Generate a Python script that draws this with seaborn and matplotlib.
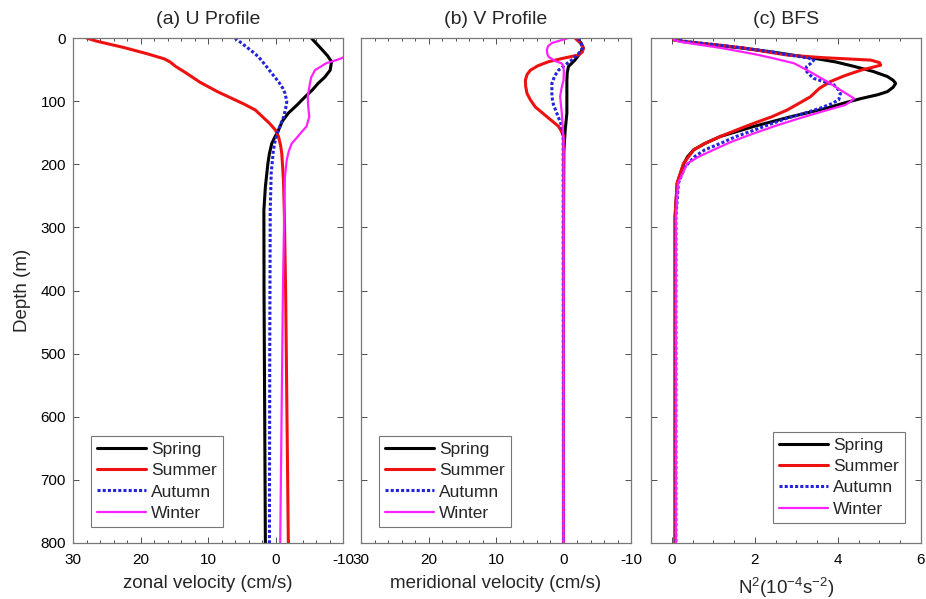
import numpy as np
import pandas as pd
import matplotlib
matplotlib.use("Agg")
import matplotlib.pyplot as plt
import seaborn as sns
from matplotlib.ticker import MultipleLocator

sns.set_style("white")
plt.rcParams['font.family'] = ['Liberation Sans', 'DejaVu Sans']
plt.rcParams['mathtext.fontset'] = 'custom'
plt.rcParams['mathtext.rm'] = 'Liberation Sans'

seasons = ["Spring", "Summer", "Autumn", "Winter"]
colors = {"Spring": "black", "Summer": "#ee1111", "Autumn": "#2222dd", "Winter": "#ff22ff"}

# ---- (a) U profile (cm/s) ----
u_spring_depth = [0, 15, 28, 37.5, 51, 62, 72, 83, 93, 106, 119, 132, 146, 157, 167, 183, 199, 236, 273, 400, 600, 800]
u_spring = [-5.3, -6.6, -7.7, -8.3, -8.1, -7.3, -6.3, -5.4, -4.4, -3.2, -1.9, -1.0, -0.44, 0.1, 0.55, 0.9, 1.13, 1.5, 1.72, 1.7, 1.6, 1.5]
u_summer_depth = [0, 5, 15, 25, 33, 38, 45, 55, 70, 85, 97, 105, 114, 125, 135, 146, 156, 170, 183, 225, 273, 400, 600, 800]
u_summer = [28, 26.5, 22.5, 19, 16.5, 15.6, 14.8, 13.3, 11.2, 8.6, 6.2, 4.6, 3.0, 1.9, 0.9, 0.0, -0.44, -0.75, -0.93, -1.18, -1.3, -1.5, -1.7, -1.9]
u_autumn_depth = [0, 10, 20, 30, 43, 56, 70, 80, 88, 101, 112, 125, 146, 160, 177, 214, 273, 500, 800]
u_autumn = [6.0, 4.8, 3.6, 2.5, 1.5, 0.55, -0.5, -1.1, -1.43, -1.67, -1.5, -1.2, -0.44, 0.0, 0.3, 0.64, 0.78, 0.85, 0.9]
u_winter_depth = [0, 25, 32, 34, 40, 51, 62, 72, 93, 108, 125, 140, 151, 160, 167, 180, 193, 220, 273, 400, 600, 800]
u_winter = [-13, -11, -9.8, -9.3, -7.5, -5.85, -5.3, -5.1, -4.77, -4.85, -5.0, -4.6, -3.7, -3.0, -2.4, -1.95, -1.67, -1.4, -1.3, -1.1, -0.9, -0.7]

# ---- (b) V profile (cm/s) ----
v_spring_depth = [0, 8, 16, 25, 35, 45, 55, 67, 119, 146, 180, 300, 800]
v_spring = [-2.0, -2.6, -2.95, -2.4, -1.7, -0.74, -0.55, -0.5, -0.5, -0.25, -0.05, 0.0, 0.0]
v_summer_depth = [0, 8, 16, 22, 27, 32, 37.5, 44, 51, 58, 67, 77, 88, 98, 109, 118, 127, 134, 140, 148, 156, 300, 800]
v_summer = [-1.7, -2.5, -2.95, -2.8, -2.2, 0.0, 2.2, 3.8, 4.9, 5.4, 5.65, 5.6, 5.4, 4.9, 4.2, 3.2, 2.2, 1.4, 0.74, 0.3, 0.0, 0.0, 0.0]
v_autumn_depth = [0, 8, 16, 25, 35, 43, 51, 60, 72, 93, 105, 119, 130, 140, 160, 800]
v_autumn = [-2.2, -2.6, -2.8, -2.2, -1.2, -0.2, 0.74, 1.3, 1.72, 1.72, 1.5, 1.0, 0.6, 0.25, 0.05, 0.0]
v_winter_depth = [0, 4, 8, 13, 19, 25, 30, 34, 37.5, 40, 45, 55, 67, 80, 93, 119, 160, 800]
v_winter = [-0.74, 0.5, 1.72, 2.3, 2.46, 2.4, 2.2, 1.6, 1.0, 0.3, 0.0, -0.05, 0.0, 0.3, 0.5, 0.25, 0.0, 0.0]

# ---- (c) BFS, N^2 (1e-4 s^-2) ----
n_spring_depth = [0, 3, 6, 11, 16, 22, 27, 32, 38, 45, 53, 61, 67, 72, 78, 85, 90, 96, 103, 111, 125, 140, 156, 167, 177, 188, 199, 230, 283, 500, 800]
n_spring = [0.05, 0.05, 0.3, 1.0, 1.7, 2.4, 2.9, 3.42, 3.95, 4.39, 4.85, 5.19, 5.33, 5.39, 5.33, 5.19, 4.95, 4.55, 4.15, 3.74, 2.85, 1.98, 1.17, 0.8, 0.53, 0.38, 0.29, 0.13, 0.08, 0.08, 0.08]
n_summer_depth = [0, 3, 6, 11, 16, 22, 27, 31, 35, 39, 43, 47, 51, 60, 69, 80, 93, 104, 114, 125, 135, 146, 156, 167, 177, 199, 230, 283, 800]
n_summer = [0.05, 0.05, 0.35, 1.1, 1.75, 2.3, 2.78, 3.6, 4.79, 5.0, 5.03, 4.8, 4.55, 4.15, 3.82, 3.55, 3.34, 3.05, 2.78, 2.4, 1.98, 1.55, 1.17, 0.8, 0.53, 0.28, 0.13, 0.08, 0.08]
n_autumn_depth = [0, 3, 6, 11, 16, 22, 27, 32, 35, 40, 45, 51, 57, 64, 69, 74, 81, 88, 98, 104, 111, 119, 127, 137, 146, 156, 167, 177, 188, 204, 230, 283, 800]
n_autumn = [0.1, 0.1, 0.4, 1.1, 1.75, 2.4, 2.85, 3.3, 3.42, 3.35, 3.25, 3.22, 3.3, 3.42, 3.65, 3.9, 4.0, 4.06, 4.02, 3.85, 3.58, 3.2, 2.78, 2.35, 1.98, 1.55, 1.17, 0.8, 0.55, 0.32, 0.16, 0.1, 0.1]
n_winter_depth = [0, 3, 6, 11, 16, 22, 27, 33, 40, 51, 60, 69, 80, 90, 96, 101, 106, 115, 125, 138, 151, 164, 177, 188, 199, 230, 283, 800]
n_winter = [0.05, 0.05, 0.2, 0.7, 1.2, 1.7, 2.1, 2.5, 2.94, 3.26, 3.5, 3.74, 4.0, 4.25, 4.39, 4.3, 4.18, 3.7, 3.18, 2.55, 1.98, 1.45, 1.01, 0.65, 0.37, 0.15, 0.1, 0.1]

panels = [
    ("(a) U Profile", "zonal velocity (cm/s)",
     {"Spring": (u_spring_depth, u_spring), "Summer": (u_summer_depth, u_summer),
      "Autumn": (u_autumn_depth, u_autumn), "Winter": (u_winter_depth, u_winter)}),
    ("(b) V Profile", "meridional velocity (cm/s)",
     {"Spring": (v_spring_depth, v_spring), "Summer": (v_summer_depth, v_summer),
      "Autumn": (v_autumn_depth, v_autumn), "Winter": (v_winter_depth, v_winter)}),
    ("(c) BFS", r"N$^2$(10$^{-4}$s$^{-2}$)",
     {"Spring": (n_spring_depth, n_spring), "Summer": (n_summer_depth, n_summer),
      "Autumn": (n_autumn_depth, n_autumn), "Winter": (n_winter_depth, n_winter)}),
]

fig = plt.figure(figsize=(9.26, 5.99), dpi=100)
lefts = [73 / 926, 361 / 926, 651 / 926]
W = 270 / 926
B = 1 - 543 / 599
H = 505 / 599

for i, (title, xlabel, data) in enumerate(panels):
    ax = fig.add_axes([lefts[i], B, W, H])
    for s in seasons:
        d, v = data[s]
        df = pd.DataFrame({"depth": d, "val": v})
        ls = (0, (1, 0.7)) if s == "Autumn" else "-"
        lw = 2.2 if s in ("Spring", "Summer", "Autumn") else 1.6
        sns.lineplot(data=df, x="val", y="depth", sort=False, ax=ax, color=colors[s],
                     linestyle=ls, linewidth=lw, label=s, estimator=None)
    ax.set_ylim(800, 0)
    if i < 2:
        ax.set_xlim(30, -10)
        ax.set_xticks([30, 20, 10, 0, -10])
        ax.set_xticklabels(["30", "20", "10", "0", "-10"])
        ax.xaxis.set_minor_locator(MultipleLocator(2))
    else:
        ax.set_xlim(-0.5, 6)
        ax.set_xticks([0, 2, 4, 6])
        ax.xaxis.set_minor_locator(MultipleLocator(0.5))
    ax.set_yticks(np.arange(0, 801, 100))
    if i == 0:
        ax.set_ylabel("Depth (m)", fontsize=13.5, labelpad=7)
    else:
        ax.set_ylabel("")
        ax.set_yticklabels([])
    ax.set_xlabel(xlabel, fontsize=13.5, labelpad=6)
    ax.set_title(title, fontsize=14, pad=10)
    ax.tick_params(direction="in", which="both", top=True, right=True, bottom=True, left=True,
                   length=4, width=0.6, colors="#333333", labelcolor="black")
    ax.tick_params(axis="x", which="major", labelsize=11, pad=7)
    ax.tick_params(axis="y", which="major", labelsize=11, pad=5)
    ax.tick_params(which="minor", length=2)
    for sp in ax.spines.values():
        sp.set_edgecolor("#777777")
        sp.set_linewidth(0.9)
    if i < 2:
        loc = dict(loc="lower left", bbox_to_anchor=(0.066, 0.032))
    else:
        loc = dict(loc="lower right", bbox_to_anchor=(0.94, 0.04))
    leg = ax.legend(**loc, fontsize=12.5, frameon=True, fancybox=False, edgecolor="#555555",
                    handlelength=2.8, borderpad=0.35, labelspacing=0.35, handletextpad=0.3,
                    borderaxespad=0)
    leg.get_frame().set_linewidth(0.8)

fig.savefig("out.png", dpi=100)
